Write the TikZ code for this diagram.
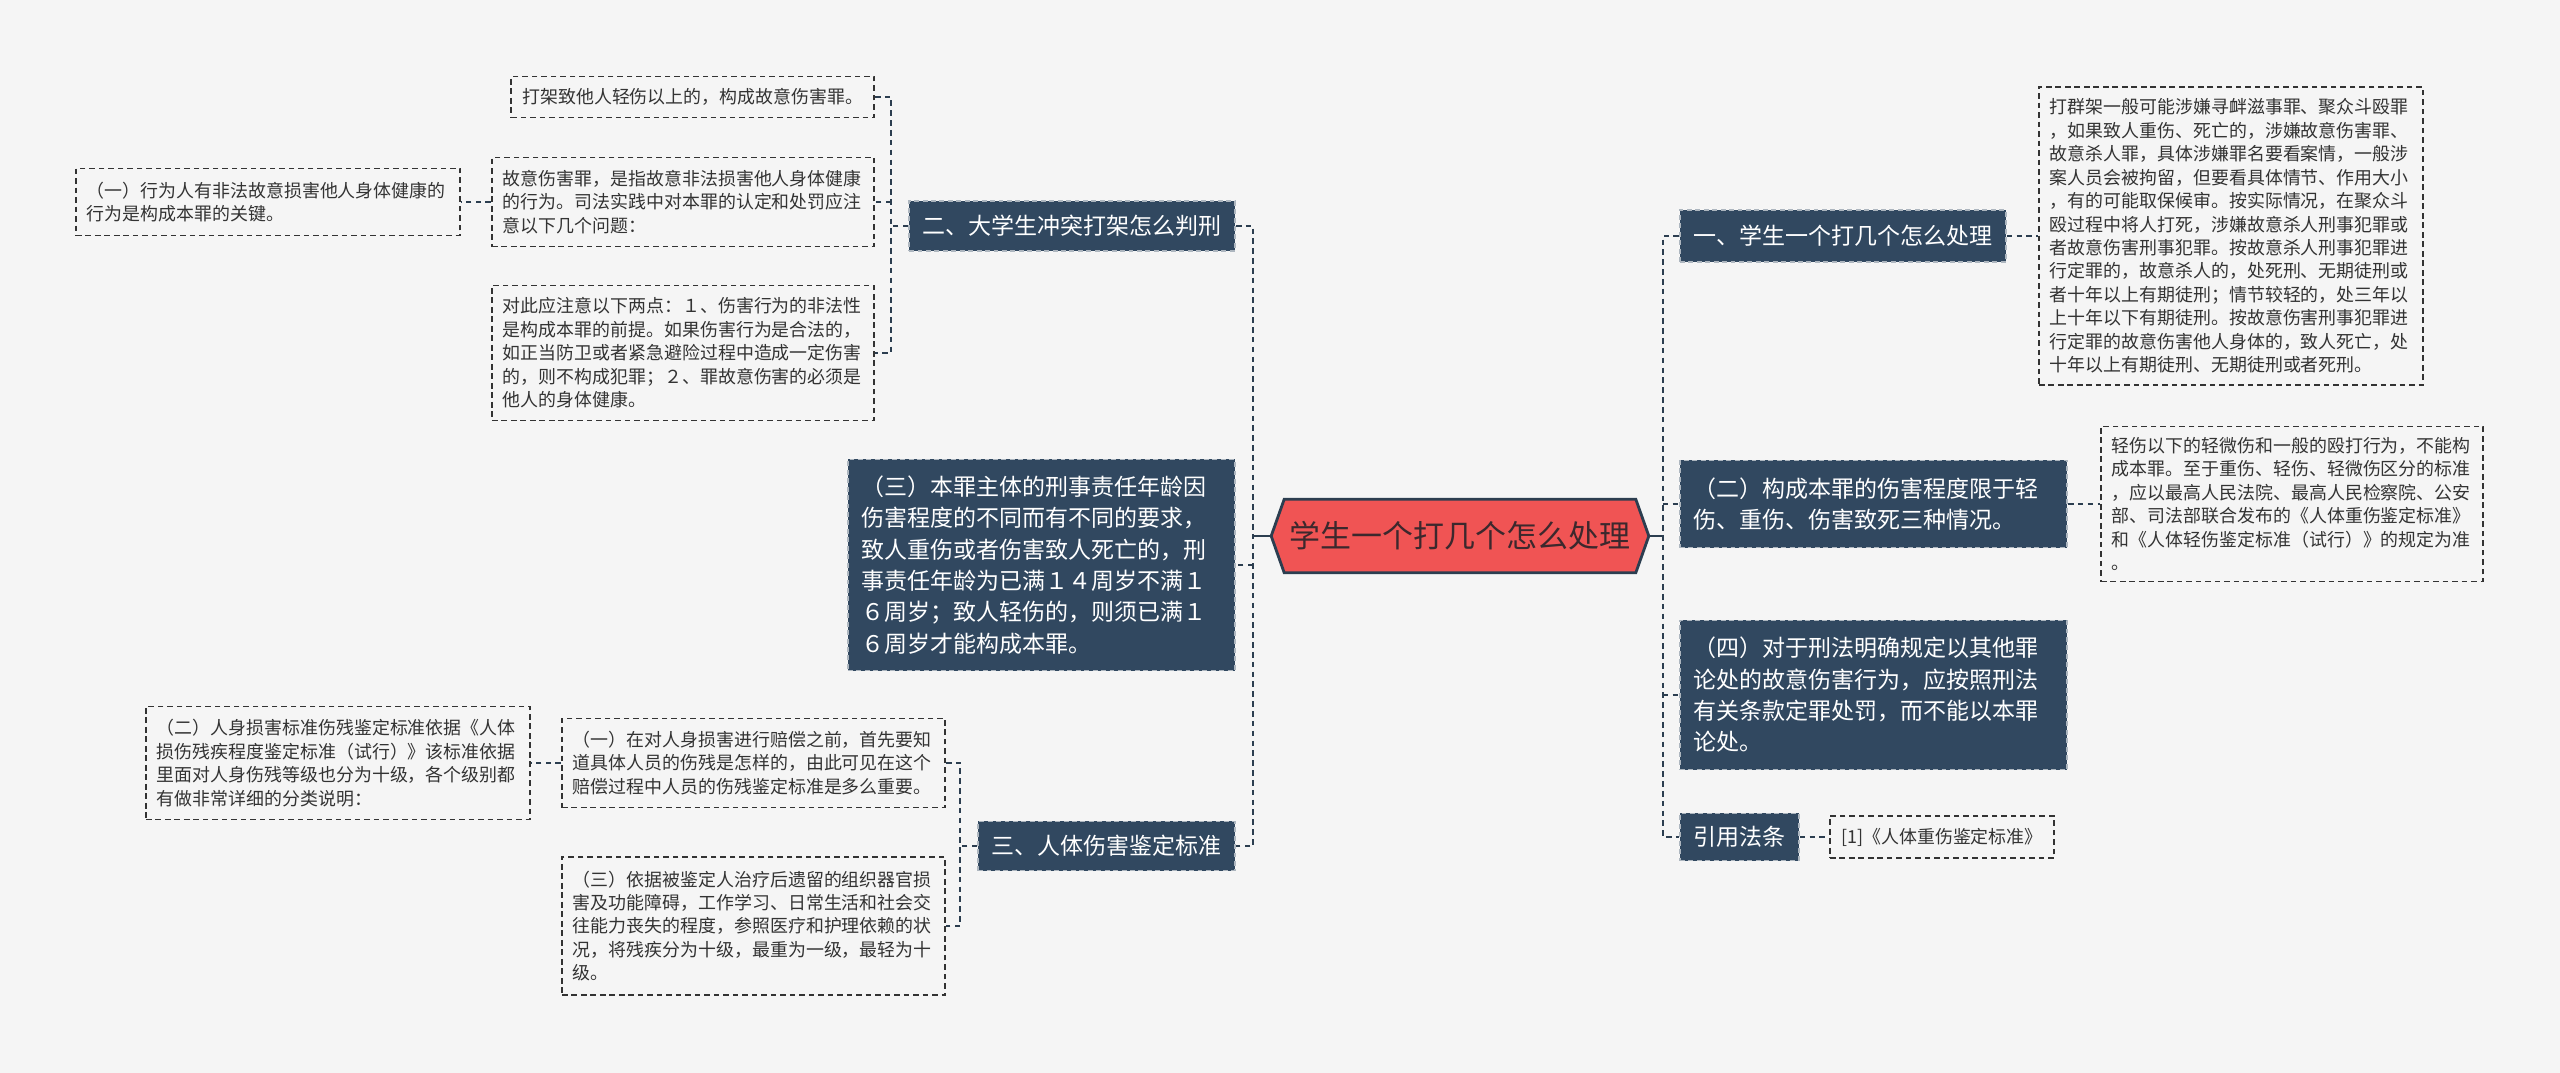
\documentclass[tikz,border=0pt]{standalone}
\usepackage{fontspec}
\setmainfont{Noto Sans CJK SC}
\usetikzlibrary{positioning,backgrounds}
\definecolor{pagebg}{RGB}{245,245,245}
\definecolor{slate}{RGB}{49,72,96}
\definecolor{coral}{RGB}{240,84,84}
\definecolor{linkc}{RGB}{44,62,80}
\definecolor{inkc}{RGB}{51,51,51}
\definecolor{rootink}{RGB}{60,40,45}
\newcommand{\notefont}{\fontsize{5.1pt}{6.67pt}\selectfont}
\newcommand{\headfont}{\fontsize{6.54pt}{8.9pt}\selectfont}
\newcommand{\rootfont}{\fontsize{8.8pt}{10.5pt}\selectfont}

\begin{document}
\begin{tikzpicture}[x=0.01cm, y=-0.01cm,
      link/.style={draw=linkc, line width=0.6pt, dash pattern=on 1.6pt off 1.2pt},
      rootlink/.style={draw=linkc, line width=0.8pt},
      head/.style={fill=slate, draw=white!60!slate, line width=0.5pt,
                   dash pattern=on 1.4pt off 1pt, text=white, font=\headfont,
                   align=left, inner xsep=0.135cm, inner ysep=0.05cm},
      note/.style={fill=pagebg, draw=inkc, line width=0.5pt,
                   dash pattern=on 1.6pt off 1.1pt, text=inkc, font=\notefont,
                   align=left, inner xsep=0.11cm, inner ysep=0.05cm}
    ]
    \useasboundingbox (0,0) rectangle (2560,1073);

    % centre
    \node[minimum width=3.76cm, minimum height=0.72cm, inner sep=0pt,
          text=rootink, font=\rootfont] (root) at (1460,536) {学生一个打几个怎么处理};

    % left: main branches
    \node[head, anchor=east, minimum height=0.50cm] (n2) at (1236,226) {二、大学生冲突打架怎么判刑};
    \node[head, anchor=east, text width=3.60cm, minimum height=2.11cm] (n3a) at (1236,565) {%
      （三）本罪主体的刑事责任年龄因\\
      伤害程度的不同而有不同的要求，\\
      致人重伤或者伤害致人死亡的，刑\\
      事责任年龄为已满１４周岁不满１\\
      ６周岁；致人轻伤的，则须已满１\\
      ６周岁才能构成本罪。};
    \node[head, anchor=east, minimum height=0.49cm] (n3) at (1236,846) {三、人体伤害鉴定标准};

    % left: notes of n2
    \node[note, anchor=east, minimum height=0.41cm] (a) at (875,97) {打架致他人轻伤以上的，构成故意伤害罪。};
    \node[note, anchor=east, text width=3.60cm, minimum height=0.89cm] (b) at (875,202) {%
      故意伤害罪，是指故意非法损害他人身体健康\\
      的行为。司法实践中对本罪的认定和处罚应注\\
      意以下几个问题：};
    \node[note, anchor=east, text width=3.60cm, minimum height=1.35cm] (c) at (875,353) {%
      对此应注意以下两点：１、伤害行为的非法性\\
      是构成本罪的前提。如果伤害行为是合法的，\\
      如正当防卫或者紧急避险过程中造成一定伤害\\
      的，则不构成犯罪；２、罪故意伤害的必须是\\
      他人的身体健康。};
    \node[note, anchor=east, text width=3.62cm, minimum height=0.67cm] (lb) at (461,202) {%
      （一）行为人有非法故意损害他人身体健康的\\
      行为是构成本罪的关键。};

    % left: notes of n3
    \node[note, anchor=east, text width=3.61cm, minimum height=0.89cm] (d) at (946,763) {%
      （一）在对人身损害进行赔偿之前，首先要知\\
      道具体人员的伤残是怎样的，由此可见在这个\\
      赔偿过程中人员的伤残鉴定标准是多么重要。};
    \node[note, anchor=east, text width=3.61cm, minimum height=1.38cm] (e) at (946,926) {%
      （三）依据被鉴定人治疗后遗留的组织器官损\\
      害及功能障碍，工作学习、日常生活和社会交\\
      往能力丧失的程度，参照医疗和护理依赖的状\\
      况，将残疾分为十级，最重为一级，最轻为十\\
      级。};
    \node[note, anchor=east, text width=3.62cm, minimum height=1.13cm] (ld) at (531,763) {%
      （二）人身损害标准伤残鉴定标准依据《人体\\
      损伤残疾程度鉴定标准（试行）》该标准依据\\
      里面对人身伤残等级也分为十级，各个级别都\\
      有做非常详细的分类说明：};

    % right: main branches
    \node[head, anchor=west, minimum height=0.52cm] (n1) at (1679,236) {一、学生一个打几个怎么处理};
    \node[head, anchor=west, text width=3.60cm, minimum height=0.87cm] (m2) at (1679,504) {%
      （二）构成本罪的伤害程度限于轻\\
      伤、重伤、伤害致死三种情况。};
    \node[head, anchor=west, text width=3.60cm, minimum height=1.49cm] (m4) at (1679,695) {%
      （四）对于刑法明确规定以其他罪\\
      论处的故意伤害行为，应按照刑法\\
      有关条款定罪处罚，而不能以本罪\\
      论处。};
    \node[head, anchor=west, minimum height=0.47cm] (cite) at (1679,837) {引用法条};

    % right: notes
    \node[note, anchor=west, text width=3.62cm, minimum height=2.98cm] (r1) at (2038,236) {%
      打群架一般可能涉嫌寻衅滋事罪、聚众斗殴罪\\
      ，如果致人重伤、死亡的，涉嫌故意伤害罪、\\
      故意杀人罪，具体涉嫌罪名要看案情，一般涉\\
      案人员会被拘留，但要看具体情节、作用大小\\
      ，有的可能取保候审。按实际情况，在聚众斗\\
      殴过程中将人打死，涉嫌故意杀人刑事犯罪或\\
      者故意伤害刑事犯罪。按故意杀人刑事犯罪进\\
      行定罪的，故意杀人的，处死刑、无期徒刑或\\
      者十年以上有期徒刑；情节较轻的，处三年以\\
      上十年以下有期徒刑。按故意伤害刑事犯罪进\\
      行定罪的故意伤害他人身体的，致人死亡，处\\
      十年以上有期徒刑、无期徒刑或者死刑。};
    \node[note, anchor=west, text width=3.60cm, minimum height=1.55cm] (r2) at (2100,504) {%
      轻伤以下的轻微伤和一般的殴打行为，不能构\\
      成本罪。至于重伤、轻伤、轻微伤区分的标准\\
      ，应以最高人民法院、最高人民检察院、公安\\
      部、司法部联合发布的《人体重伤鉴定标准》\\
      和《人体轻伤鉴定标准（试行）》的规定为准\\
      。};
    \node[note, anchor=west, minimum width=2.24cm, minimum height=0.42cm] (r4) at (1829,837) {[1]《人体重伤鉴定标准》};

    % junctions
    \coordinate (jl) at ([xshift=-0.18cm]root.west);
    \coordinate (jr) at ([xshift=0.14cm]root.east);
    \coordinate (j2) at ([xshift=-0.17cm]n2.west);
    \coordinate (j3) at ([xshift=-0.17cm]n3.west);

    % connectors
    \draw[rootlink] (root.west) -- (jl);
    \draw[rootlink] (root.east) -- (jr);
    \draw[link] (n2.east) -| (jl) |- (n3.east);
    \draw[link] (jl |- n3a.east) -- (n3a.east);
    \draw[link] (n1.west) -| (jr) |- (cite.west);
    \draw[link] (jr |- m2.west) -- (m2.west);
    \draw[link] (jr |- m4.west) -- (m4.west);

    \draw[link] (n2.west) -- (j2);
    \draw[link] (a.east) -| (j2) |- (c.east);
    \draw[link] (j2 |- b.east) -- (b.east);
    \draw[link] (b.west) -- (lb.east);

    \draw[link] (n3.west) -- (j3);
    \draw[link] (d.east) -| (j3) |- (e.east);
    \draw[link] (d.west) -- (ld.east);

    \draw[link] (n1.east) -- (r1.west);
    \draw[link] (m2.east) -- (r2.west);
    \draw[link] (cite.east) -- (r4.west);

    \begin{scope}[on background layer]
      \fill[pagebg] (0,0) rectangle (2560,1073);
      \filldraw[fill=coral, draw=linkc, line width=0.8pt]
        (root.west) -- ([xshift=0.13cm]root.north west) -- ([xshift=-0.13cm]root.north east)
        -- (root.east) -- ([xshift=-0.13cm]root.south east) -- ([xshift=0.13cm]root.south west) -- cycle;
    \end{scope}
  \end{tikzpicture}
\end{document}
